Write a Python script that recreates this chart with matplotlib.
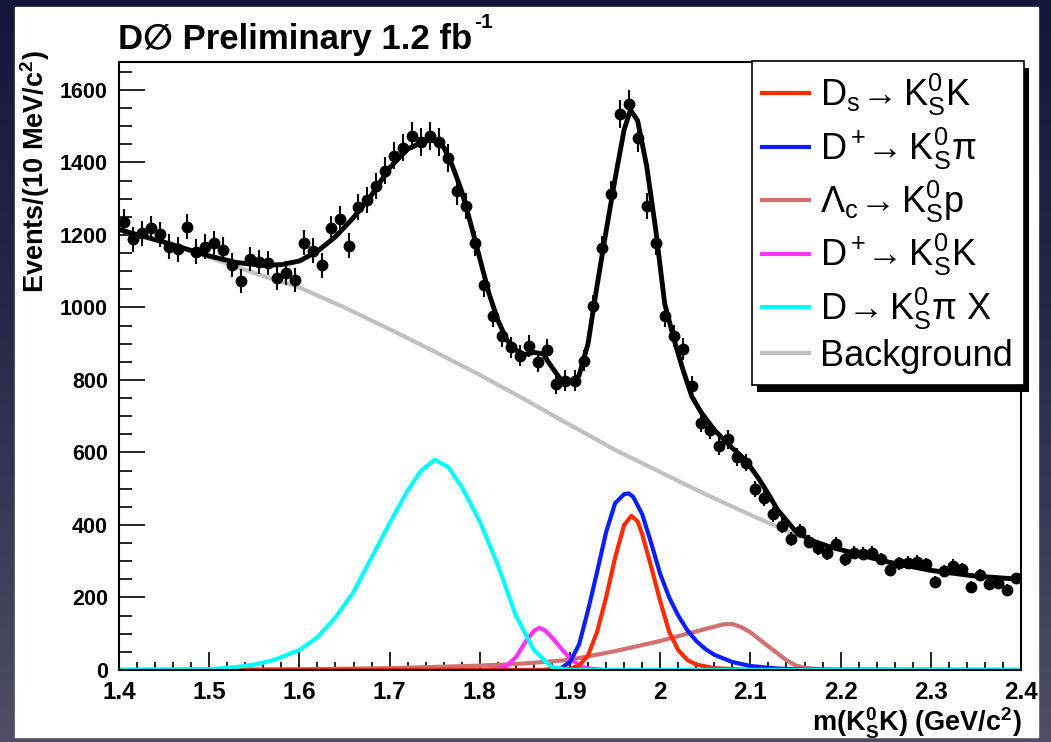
import numpy as np
import matplotlib
matplotlib.use('Agg')
import matplotlib.pyplot as plt
from matplotlib.patches import Rectangle
from matplotlib.lines import Line2D
from matplotlib.ticker import MultipleLocator, FuncFormatter
from matplotlib.transforms import IdentityTransform

plt.rcParams['font.family'] = ['Liberation Sans', 'DejaVu Sans']
plt.rcParams['mathtext.fontset'] = 'custom'
plt.rcParams['mathtext.rm'] = 'Liberation Sans'
plt.rcParams['mathtext.it'] = 'Liberation Sans:italic'
plt.rcParams['mathtext.bf'] = 'Liberation Sans:bold'
plt.rcParams['mathtext.default'] = 'rm'

W, H = 1051, 742

# histograma: bins de 10 MeV entre 1.4 y 2.4
bordes = np.linspace(1.4, 2.4, 101)
centros = 0.5 * (bordes[1:] + bordes[:-1])
eventos = [1237, 1188, 1205, 1218, 1202, 1168, 1160, 1223, 1154, 1168,
           1177, 1159, 1117, 1073, 1133, 1126, 1122, 1080, 1096, 1076,
           1179, 1157, 1116, 1218, 1244, 1170, 1276, 1297, 1335, 1377,
           1419, 1441, 1473, 1457, 1473, 1457, 1412, 1320, 1281, 1177,
           1062, 977, 920, 890, 867, 894, 850, 883, 789, 798,
           798, 853, 1004, 1163, 1313, 1533, 1560, 1467, 1280, 1179,
           976, 920, 885, 782, 682, 662, 617, 636, 588, 572,
           499, 475, 430, 398, 361, 384, 354, 336, 322, 348,
           305, 324, 320, 324, 306, 276, 294, 296, 299, 292,
           244, 274, 288, 279, 230, 262, 237, 239, 221, 253]
errores = np.sqrt(eventos)

# curvas del ajuste
m_fit = [1.40, 1.45, 1.50, 1.53, 1.56, 1.58, 1.60, 1.62, 1.64, 1.66, 1.68, 1.70,
         1.72, 1.74, 1.75, 1.76, 1.77, 1.78, 1.79, 1.80, 1.81, 1.82, 1.83, 1.84,
         1.85, 1.86, 1.87, 1.88, 1.89, 1.90, 1.91, 1.92, 1.93, 1.94, 1.95, 1.96,
         1.967, 1.975, 1.985, 1.995, 2.005, 2.015, 2.025, 2.035, 2.045, 2.06,
         2.08, 2.095, 2.11, 2.12, 2.13, 2.15, 2.17, 2.19, 2.20, 2.25, 2.30, 2.35, 2.40]
fit = [1215, 1180, 1142, 1124, 1116, 1118, 1128, 1155, 1195, 1248, 1310, 1385,
       1437, 1460, 1460, 1442, 1388, 1320, 1230, 1135, 1040, 965, 910, 882,
       870, 876, 872, 835, 800, 792, 812, 900, 1060, 1210, 1355, 1490,
       1545, 1515, 1390, 1215, 1010, 915, 830, 755, 712, 662,
       612, 578, 525, 485, 442, 383, 355, 338, 332, 299, 275, 259, 250]

m_bg = [1.40, 1.45, 1.50, 1.55, 1.60, 1.65, 1.70, 1.75, 1.80, 1.85, 1.90,
        1.95, 2.00, 2.05, 2.10, 2.15, 2.20, 2.25, 2.30, 2.35, 2.40]
bg = [1215, 1180, 1138, 1095, 1055, 1000, 940, 878, 814, 746, 676,
      607, 546, 485, 428, 373, 331, 300, 273, 258, 249]

m_ds = [1.40, 1.89, 1.90, 1.91, 1.92, 1.93, 1.94, 1.95, 1.96, 1.968, 1.975,
        1.98, 1.99, 2.00, 2.01, 2.02, 2.03, 2.04, 2.06, 2.10, 2.40]
ds = [0, 0, 4, 12, 40, 105, 200, 310, 400, 425, 410,
      375, 285, 190, 105, 55, 28, 15, 5, 0, 0]

m_dp = [1.40, 1.87, 1.89, 1.90, 1.91, 1.92, 1.93, 1.94, 1.95, 1.96, 1.965, 1.97,
        1.98, 1.99, 2.00, 2.01, 2.02, 2.03, 2.04, 2.05, 2.06, 2.08, 2.10, 2.13, 2.16, 2.40]
dp = [0, 0, 5, 22, 70, 165, 270, 380, 460, 485, 487, 478,
      430, 350, 265, 200, 150, 110, 80, 58, 42, 22, 11, 4, 1, 0]

m_lc = [1.40, 1.50, 1.60, 1.70, 1.80, 1.85, 1.90, 1.95, 2.00, 2.03, 2.05, 2.07,
        2.08, 2.09, 2.10, 2.12, 2.14, 2.15, 2.16, 2.18, 2.20, 2.40]
lc = [0, 1, 2, 5, 12, 18, 28, 52, 80, 100, 113, 126,
      127, 118, 104, 65, 27, 13, 6, 1, 0, 0]

m_dk = [1.40, 1.80, 1.82, 1.83, 1.84, 1.85, 1.86, 1.866, 1.872, 1.88, 1.89,
        1.90, 1.91, 1.92, 1.94, 2.40]
dk = [0, 0, 3, 12, 35, 75, 108, 116, 110, 90, 60, 32, 13, 4, 0, 0]

m_dx = [1.40, 1.50, 1.53, 1.55, 1.57, 1.60, 1.62, 1.64, 1.66, 1.68, 1.70, 1.72,
        1.735, 1.75, 1.765, 1.78, 1.80, 1.82, 1.84, 1.86, 1.88, 1.90, 2.40]
dx = [0, 2, 8, 15, 26, 55, 90, 145, 215, 310, 405, 495,
      550, 580, 560, 505, 410, 290, 150, 55, 8, 0, 0]

etiquetas = [r'$D_s\!\rightarrow K^0_SK$', r'$D^+\!\!\rightarrow K^0_S\pi$',
             r'$\Lambda_c\!\rightarrow K^0_Sp$', r'$D^+\!\!\rightarrow K^0_SK$',
             r'$D\!\rightarrow K^0_S\pi\ X$', 'Background']
colores = ['#ff2a00', '#0a1eff', '#d07070', '#ff33ff', '#00ffff', '#c0c0c0']

fig = plt.figure(figsize=(W / 100, H / 100), dpi=100)

# fondo oscuro tipo diapositiva + panel blanco
axbg = fig.add_axes([0, 0, 1, 1])
grad = np.linspace(0, 1, 256)[:, None]
cmap = matplotlib.colors.LinearSegmentedColormap.from_list('fondo', ['#13153a', '#2a2c4c', '#4e4f66'])
axbg.imshow(grad, aspect='auto', cmap=cmap, extent=[0, 1, 0, 1])
axbg.add_patch(Rectangle((15 / W, 1 - 737 / H), (1038 - 15) / W, (737 - 7) / H,
                         transform=axbg.transAxes, color='white'))
axbg.set_xlim(0, 1)
axbg.set_ylim(0, 1)
axbg.axis('off')

ax = fig.add_axes([119 / W, 1 - 670 / H, (1021 - 119) / W, (670 - 62) / H])

ax.plot(m_lc, lc, color=colores[2], lw=3)
ax.plot(m_dk, dk, color=colores[3], lw=3)
ax.plot(m_dp, dp, color=colores[1], lw=3)
ax.plot(m_ds, ds, color=colores[0], lw=3)
ax.plot(m_dx, dx, color=colores[4], lw=3)
ax.plot(m_bg, bg, color=colores[5], lw=3)
ax.plot(m_fit, fit, color='black', lw=3.5)
ax.errorbar(centros, eventos, yerr=errores, fmt='o', color='black', ms=7.5,
            elinewidth=1.5, capsize=0, zorder=4)

ax.set_xlim(1.4, 2.4)
ax.set_ylim(0, 1677)
ax.xaxis.set_major_locator(MultipleLocator(0.1))
ax.xaxis.set_minor_locator(MultipleLocator(0.02))
ax.yaxis.set_major_locator(MultipleLocator(200))
ax.yaxis.set_minor_locator(MultipleLocator(50))
ax.xaxis.set_major_formatter(FuncFormatter(lambda v, p: '%g' % round(v, 2)))
ax.tick_params(which='both', direction='in', top=False, right=False, width=1.2)
ax.tick_params(axis='x', which='major', length=13, pad=8)
ax.tick_params(axis='x', which='minor', length=6)
ax.tick_params(axis='y', which='major', length=19, pad=8)
ax.tick_params(axis='y', which='minor', length=9.5)
for lab in ax.get_xticklabels():
    lab.set_fontsize(17.5)
    lab.set_fontweight('bold')
for lab in ax.get_yticklabels():
    lab.set_fontsize(15.5)
    lab.set_fontweight('bold')
for s in ax.spines.values():
    s.set_linewidth(1.5)

# leyenda con sombra
manijas = [Line2D([], [], color=c, lw=3) for c in colores]
leg = ax.legend(manijas, etiquetas, loc='upper right', bbox_to_anchor=(1.003, 1.0015),
                borderaxespad=0, fontsize=26, handlelength=1.3, handletextpad=0.3,
                borderpad=0.3, labelspacing=0.2, fancybox=False, framealpha=1,
                edgecolor='black')
leg.get_frame().set_linewidth(1.2)

# textos
tit = fig.text(118 / W, 1 - 49 / H, 'D\u2205 Preliminary 1.2 fb', fontsize=25,
               fontweight='bold', va='baseline', ha='left')
fig.text(35 / W, 1 - 50 / H, r'$\mathbf{Events/(10\ MeV/c^{2})}$', rotation=90,
         fontsize=19.5, ha='center', va='top')
fig.text(1022 / W, 1 - 723 / H, r'$\mathbf{m(K^{0}_{S}K)\ (GeV/c^{2})}$',
         fontsize=19.5, ha='right', va='center')

fig.canvas.draw()
bb = leg.get_frame().get_window_extent()
ax.add_patch(Rectangle((bb.x0 + 5, bb.y0 - 7), bb.width, bb.height,
                       transform=IdentityTransform(), facecolor='black',
                       edgecolor='none', zorder=4.9, clip_on=False))
tb = tit.get_window_extent()
fig.text((tb.x1 + 2) / W, (tb.y1 + 1) / H, '-1', fontsize=15, fontweight='bold',
         ha='left', va='center')

fig.savefig('out.png', dpi=100)
